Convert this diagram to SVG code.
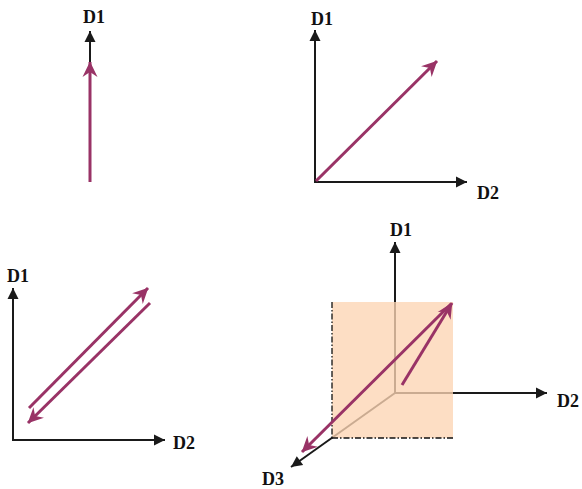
<svg xmlns="http://www.w3.org/2000/svg" width="582" height="489" viewBox="0 0 582 489">
<style>
.lbl{font-family:"Liberation Serif","Times New Roman",serif;font-weight:bold;font-size:18px;fill:#111}
.ax{stroke:#1a1a1a;stroke-width:2;fill:none}
.vec{stroke:#993366;stroke-width:3;fill:none}
.dd{stroke:#111;stroke-width:1.3;stroke-dasharray:6 2 1.5 2;fill:none}
</style>
<defs>
<marker id="ah" markerUnits="userSpaceOnUse" viewBox="-12 -6 13 12" refX="0" refY="0" markerWidth="13" markerHeight="12" orient="auto">
<path d="M0,0 L-11,-5.5 L-11,5.5 Z" fill="#1a1a1a"/>
</marker>
<marker id="vh" markerUnits="userSpaceOnUse" viewBox="-17 -9 18 18" refX="0" refY="0" markerWidth="18" markerHeight="18" orient="auto">
<path d="M0.5,0 L-15,-7.5 L-10,0 L-15,7.5 Z" fill="#993366"/>
</marker>
</defs>

<g id="panel1">
<g id="p1-axes"><line class="ax" x1="90" y1="62" x2="90" y2="31" marker-end="url(#ah)"/></g>
<text class="lbl" x="94" y="23" text-anchor="middle">D1</text>
<g id="p1-vector"><line class="vec" x1="90" y1="182" x2="90" y2="62" marker-end="url(#vh)"/></g>
</g>

<g id="panel2">
<g id="p2-axes">
<line class="ax" x1="315" y1="182" x2="315" y2="30" marker-end="url(#ah)"/>
<line class="ax" x1="314" y1="182" x2="467" y2="182" marker-end="url(#ah)"/>
</g>
<text class="lbl" x="311" y="25">D1</text>
<text class="lbl" x="477" y="199">D2</text>
<g id="p2-vector"><line class="vec" x1="316" y1="181" x2="437" y2="61" marker-end="url(#vh)"/></g>
</g>

<g id="panel3">
<g id="p3-axes">
<line class="ax" x1="13" y1="440" x2="13" y2="288" marker-end="url(#ah)"/>
<line class="ax" x1="12" y1="440" x2="165" y2="440" marker-end="url(#ah)"/>
</g>
<text class="lbl" x="7" y="282">D1</text>
<text class="lbl" x="173" y="449">D2</text>
<g id="p3-vectors">
<line class="vec" x1="29" y1="408" x2="148" y2="288" marker-end="url(#vh)"/>
<line class="vec" x1="150" y1="303" x2="28" y2="423" marker-end="url(#vh)"/>
</g>
</g>

<g id="panel4">
<g id="p4-axes">
<line class="ax" x1="395" y1="393" x2="395" y2="242" marker-end="url(#ah)"/>
<line class="ax" x1="394" y1="393" x2="547" y2="393" marker-end="url(#ah)"/>
<line class="ax" x1="395" y1="393" x2="291" y2="467" marker-end="url(#ah)"/>
</g>
<g id="p4-plane">
<rect x="332" y="302" width="121" height="136" fill="#fcd5b4" fill-opacity="0.78"/>
<line class="dd" x1="332" y1="302" x2="332" y2="438"/>
<line class="dd" x1="332" y1="438" x2="453" y2="438"/>
</g>
<text class="lbl" x="390" y="236">D1</text>
<text class="lbl" x="557" y="407">D2</text>
<text class="lbl" x="262" y="485">D3</text>
<g id="p4-vectors">
<line class="vec" x1="451" y1="304" x2="302" y2="452" marker-end="url(#vh)"/>
<line class="vec" x1="402" y1="385" x2="452" y2="303" marker-end="url(#vh)"/>
</g>
</g>
</svg>
